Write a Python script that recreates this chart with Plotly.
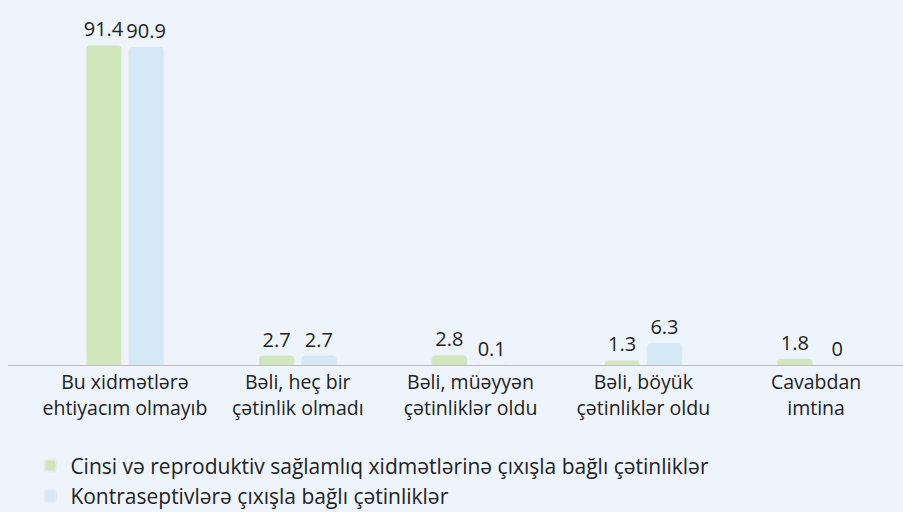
import plotly.graph_objects as go

categories = ["Bu xidmətlərə<br>ehtiyacım olmayıb", "Bəli, heç bir<br>çətinlik olmadı",
              "Bəli, müəyyən<br>çətinliklər oldu", "Bəli, böyük<br>çətinliklər oldu",
              "Cavabdan<br>imtina"]
series1_name = "Cinsi və reproduktiv sağlamlıq xidmətlərinə çıxışla bağlı çətinliklər"
series1 = [91.4, 2.7, 2.8, 1.3, 1.8]
series2_name = "Kontraseptivlərə çıxışla bağlı çətinliklər"
series2 = [90.9, 2.7, 0.1, 6.3, 0]

BG = "#EEF4FB"
FONT = "Open Sans, Noto Sans, sans-serif"

fig = go.Figure()
fig.add_bar(x=categories, y=series1, name=series1_name, marker_color="#D1E6BB",
            text=[str(v) for v in series1], textposition="outside", constraintext="none",
            textfont=dict(size=20, color="#222"), cliponaxis=False)
fig.add_bar(x=categories, y=series2, name=series2_name, marker_color="#D5E8F6",
            text=[str(v) for v in series2], textposition="outside", constraintext="none",
            textfont=dict(size=20, color="#222"), cliponaxis=False)

fig.update_layout(
    width=903, height=512,
    paper_bgcolor=BG, plot_bgcolor=BG,
    font=dict(family=FONT, color="#222"),
    margin=dict(l=8, r=0, t=10, b=147, autoexpand=False),
    barmode="group", bargap=0.51, bargroupgap=0.167,
    barcornerradius=4,
    showlegend=True,
    legend=dict(orientation="v", x=0.025, y=0.13, yref="container",
                xanchor="left", yanchor="top",
                font=dict(size=21, color="#222"), bgcolor="rgba(0,0,0,0)",
                itemsizing="constant"),
    xaxis=dict(type="category", range=[-0.677, 4.503], showline=True, linecolor="#BBBBBB",
               linewidth=1, ticks="", tickfont=dict(size=19.5, color="#222"), showgrid=False,
               automargin=False),
    yaxis=dict(range=[0, 101.5], visible=False, showgrid=False, zeroline=False),
)

fig.write_html("out.html", config={"displayModeBar": False},
               post_script="document.body.style.margin='0';document.body.style.background='#EEF4FB';")
